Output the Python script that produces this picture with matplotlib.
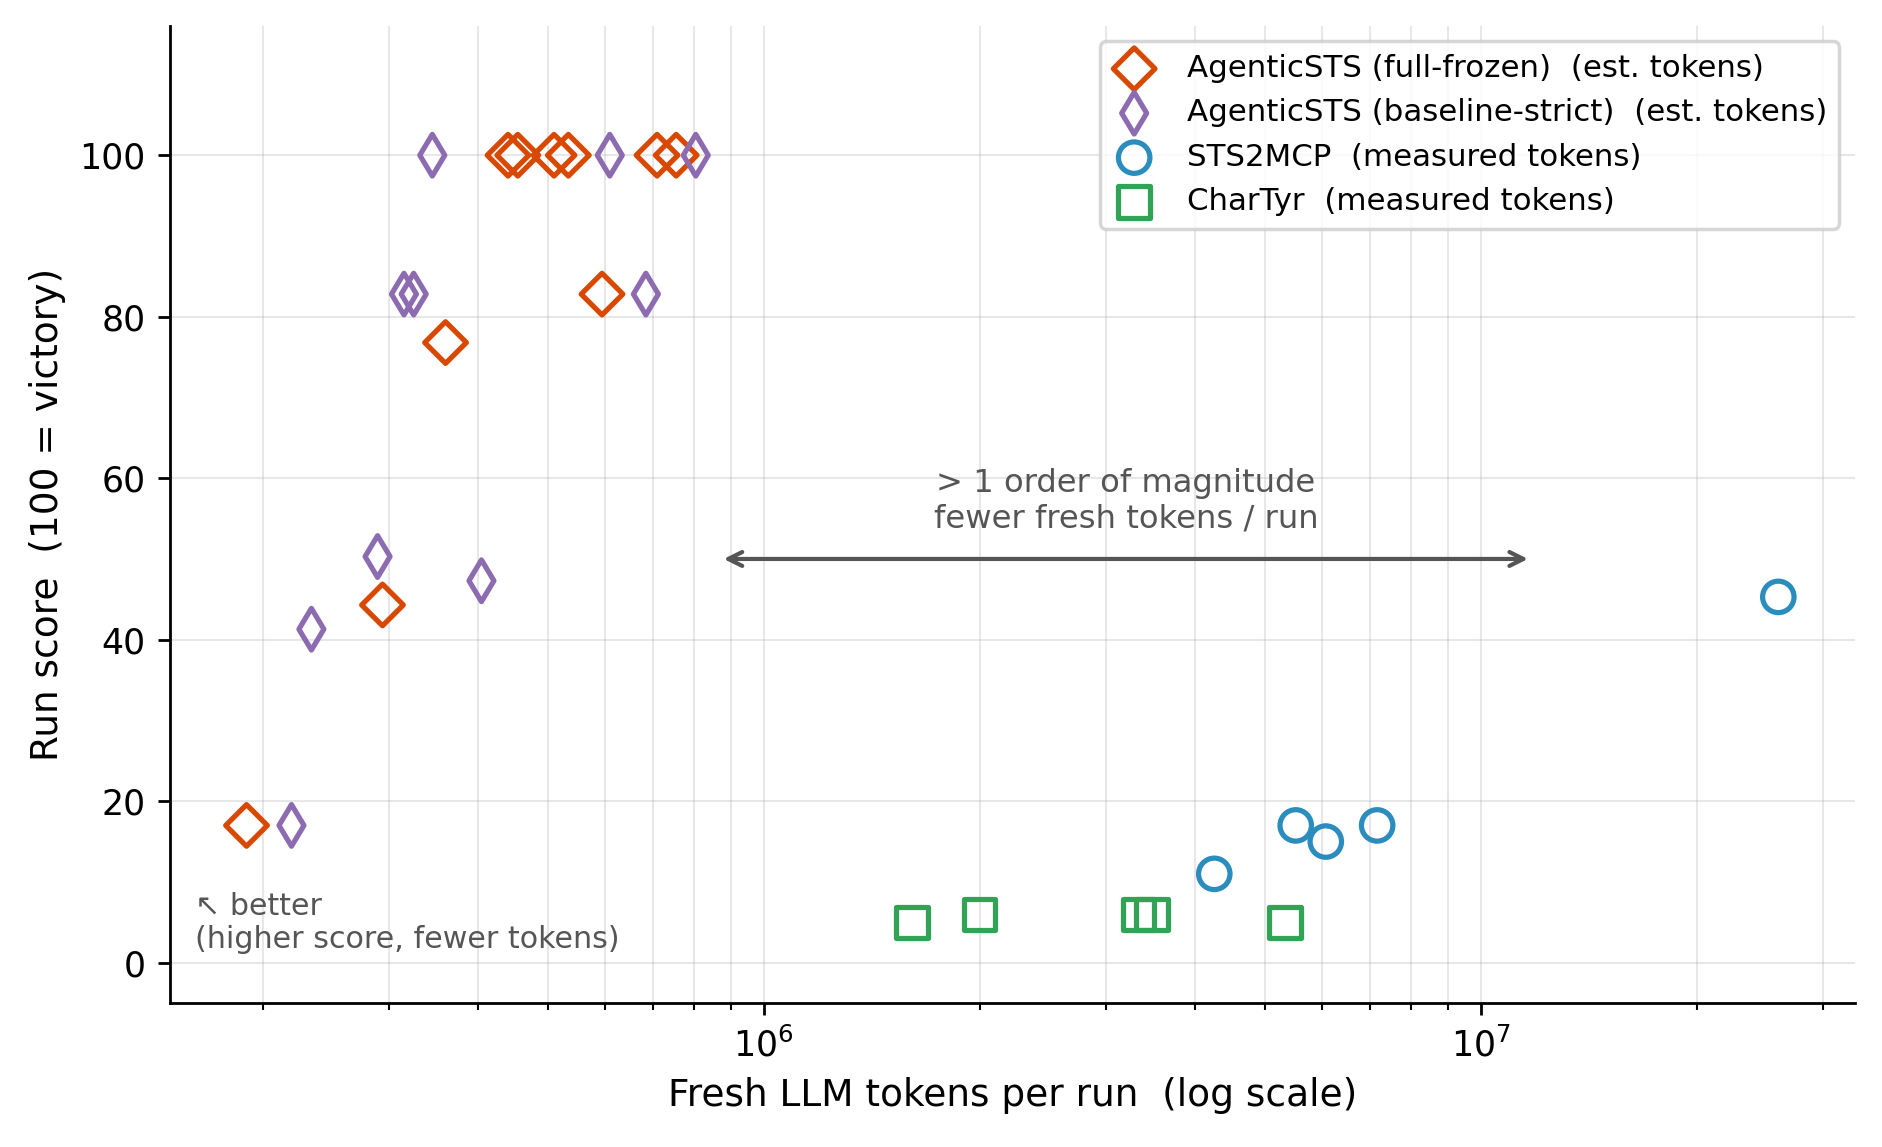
import matplotlib.pyplot as plt
import numpy as np

# AgenticSTS (full-frozen) - estimated tokens
ff_tokens = [1.90e5, 2.94e5, 3.60e5, 5.95e5, 4.40e5, 4.54e5, 5.10e5, 5.34e5, 7.10e5, 7.55e5]
ff_score = [17, 44.3, 76.8, 82.8, 100, 100, 100, 100, 100, 100]

# AgenticSTS (baseline-strict) - estimated tokens
bs_tokens = [2.195e5, 2.34e5, 2.894e5, 4.04e5, 3.15e5, 3.25e5, 6.85e5, 3.45e5, 6.10e5, 8.04e5]
bs_score = [17, 41.3, 50.3, 47.3, 82.8, 82.8, 82.8, 100, 100, 100]

# STS2MCP - measured tokens
mcp_tokens = [4.25e6, 5.52e6, 6.08e6, 7.17e6, 2.60e7]
mcp_score = [11, 17, 15, 17, 45.3]

# CharTyr - measured tokens
ct_tokens = [1.61e6, 2.00e6, 3.33e6, 3.48e6, 5.33e6]
ct_score = [5, 6, 6, 6, 5]

# 色
c_ff = "#d94801"
c_bs = "#8c6bb1"
c_mcp = "#2b8cbe"
c_ct = "#31a354"

fig = plt.figure(figsize=(1882 / 250, 1147 / 250), dpi=250)
ax = fig.add_axes([0.0903, 0.1255, 0.8953, 0.8518])

ax.scatter(ff_tokens, ff_score, marker="D", s=72, facecolors="none", edgecolors=c_ff,
           linewidths=1.5, label="AgenticSTS (full-frozen)  (est. tokens)", zorder=3)
ax.scatter(bs_tokens, bs_score, marker="d", s=72, facecolors="none", edgecolors=c_bs,
           linewidths=1.5, label="AgenticSTS (baseline-strict)  (est. tokens)", zorder=3)
ax.scatter(mcp_tokens, mcp_score, marker="o", s=82, facecolors="none", edgecolors=c_mcp,
           linewidths=1.5, label="STS2MCP  (measured tokens)", zorder=3)
ax.scatter(ct_tokens, ct_score, marker="s", s=82, facecolors="none", edgecolors=c_ct,
           linewidths=1.5, label="CharTyr  (measured tokens)", zorder=3)

ax.set_xscale("log")
ax.set_ylim(-5, 116)

# 矢印と注釈
ax.annotate("", xy=(8.6e5, 50), xytext=(1.19e7, 50),
            arrowprops=dict(arrowstyle="<->", color="#555555", lw=1.2))
ax.text(np.sqrt(8.6e5 * 1.19e7), 53, "> 1 order of magnitude\nfewer fresh tokens / run",
        ha="center", va="bottom", fontsize=9.3, color="#555555")
ax.text(0.015, 0.05, "\u2196 better\n(higher score, fewer tokens)", transform=ax.transAxes,
        ha="left", va="bottom", fontsize=8.7, color="#555555")

ax.set_xlabel("Fresh LLM tokens per run  (log scale)", fontsize=10.8)
ax.set_ylabel("Run score  (100 = victory)", fontsize=10.8)

ax.grid(True, which="both", alpha=0.3, linewidth=0.6)
ax.spines["top"].set_visible(False)
ax.spines["right"].set_visible(False)
ax.legend(loc="upper right", fontsize=8.9, handlelength=1.4, handletextpad=1.0)

fig.savefig("out.png", dpi=250)
